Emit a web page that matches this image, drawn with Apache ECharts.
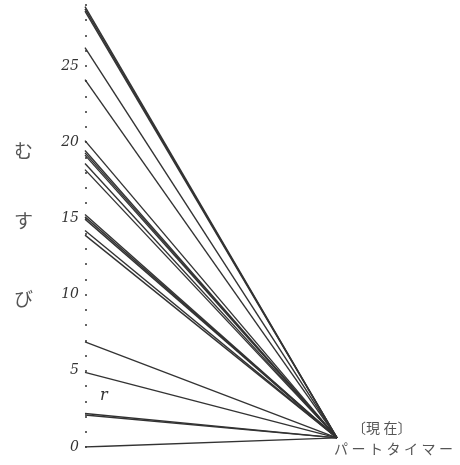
<!DOCTYPE html>
<html>
<head>
<meta charset="utf-8">
<script src="https://cdn.jsdelivr.net/npm/echarts@6/dist/echarts.min.js"></script>
<style>
html, body {margin:0; padding:0; background:#fff;}
#graphic {width:460px; height:465px;}
</style>
</head>
<body>
<div id="graphic"></div>
<script>
//左端の値 (むすび) - 太い線は重なった複数本
var startValues = [28.9, 28.75, 28.6, 26.2, 24.1, 20.1, 19.45, 19.3, 19.15, 18.6, 18.2, 15.25, 15.1, 14.95, 14.2, 13.9, 6.9, 4.9, 2.2, 2.1, 0];
//収束点 (現在 パートタイマー)
var endValue = 0.6;
var tickLabels = [0, 5, 10, 15, 20, 25];
var sideChars = ['む', 'す', 'び'];

var ink = '#333';

function getSeries(){
    var series = [];
    for(var i=0; i<startValues.length; i++){
        series.push({
            type:'line', symbol:'none', silent:true,
            lineStyle:{color:ink, width:1.4},
            data:[[0, startValues[i]], [1, endValue]]
        });
    }
    return series;
}

function getGraphic(){
    var g = [];
    var ys = [152, 222, 300];
    for(var i=0; i<sideChars.length; i++){
        g.push({type:'text', left:14, top:ys[i]-11,
            style:{text:sideChars[i], fill:'#555', font:'19px "Noto Sans CJK JP"'}});
    }
    g.push({type:'text', left:352, top:421,
        style:{text:'〔現\u2005在〕', fill:'#555', font:'14px "Noto Sans CJK JP"'}});
    g.push({type:'text', left:334, top:442,
        style:{text:'パートタイマー'.split('').join('\u2005'), fill:'#555', font:'14px "Noto Sans CJK JP"'}});
    g.push({type:'text', left:100, top:388,
        style:{text:'r', fill:'#333', font:'italic 16px "DejaVu Serif"'}});
    return g;
}

var option = {
    animation:false,
    grid:{left:85, right:123, top:5, bottom:18},
    xAxis:{type:'value', min:0, max:1, show:false},
    yAxis:{
        type:'value', min:0, max:29, interval:1,
        axisLine:{show:false},
        axisTick:{show:true, inside:true, length:2, lineStyle:{color:'#666', width:2}},
        splitLine:{show:false},
        axisLabel:{
            margin:6, color:'#333', fontSize:14, fontStyle:'italic',
            fontFamily:'DejaVu Serif',
            formatter:function(v){ return tickLabels.indexOf(v)>=0 ? String(v) : ''; }
        }
    },
    series:getSeries(),
    graphic:getGraphic()
};

var graphic = echarts.init(document.getElementById('graphic'));
graphic.setOption(option);
</script>
</body>
</html>
